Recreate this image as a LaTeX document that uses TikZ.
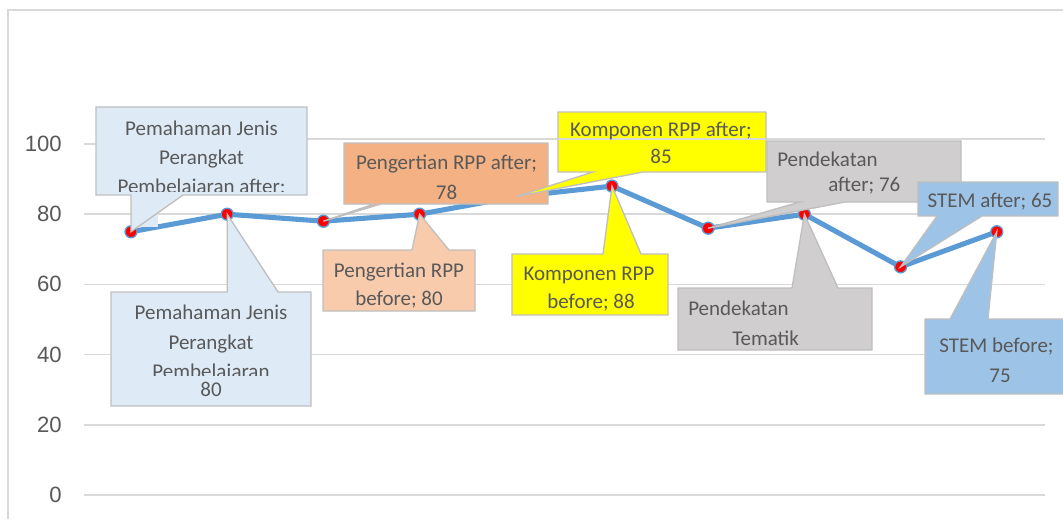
\documentclass[tikz,border=0pt]{standalone}
\usepackage{fontspec}
\setmainfont{Carlito}
\newfontfamily\axisfont{Liberation Sans}
\definecolor{lineblue}{HTML}{5B9BD5}
\definecolor{gridcol}{HTML}{D9D9D9}
\definecolor{cborder}{HTML}{BFBFBF}
\definecolor{txtcol}{HTML}{595959}
\definecolor{lblue}{HTML}{DEEBF7}
\definecolor{orA}{HTML}{F4B183}
\definecolor{orB}{HTML}{F8CBAD}
\definecolor{yel}{HTML}{FFFF00}
\definecolor{gry}{HTML}{D0CECE}
\definecolor{blu}{HTML}{9DC3E6}
\tikzset{
  grid line/.style={draw=gridcol, line width=1.1pt},
  axislbl/.style={font=\axisfont\fontsize{16.6}{18}\selectfont, text=txtcol, anchor=east, inner sep=0pt},
  callout/.style={draw=cborder, line width=1pt, line join=miter},
  lbl/.style={font=\fontsize{15.75}{18}\selectfont, text=txtcol, inner sep=0pt, anchor=base},
  lblw/.style={lbl, anchor=base west},
  marker/.style={fill=red, draw=lineblue, line width=1pt}
}
\begin{document}
\begin{tikzpicture}[x=0.75pt,y=-0.75pt]
\useasboundingbox (0,0) rectangle (1063,519);
\fill[white] (0,0) rectangle (1063,519);
% chart area border
\draw[draw=gridcol, line width=1.1pt] (8,519) -- (8,10) -- (1063,10);
% gridlines
\foreach \v in {0,20,40,60,80} {
  \draw[grid line] (84,{495-3.51*\v}) -- (1045,{495-3.51*\v});
}
\draw[grid line] (84,144) -- (96,144);
\draw[grid line] (307,139) -- (1045,139);
% axis labels
\node[axislbl] (y100) at (62,144) {100};
\node[axislbl] (y80) at (62,214) {80};
\node[axislbl] (y60) at (62,284) {60};
\node[axislbl] (y40) at (62,355) {40};
\node[axislbl] (y20) at (62,425) {20};
\node[axislbl] (y0) at (62,495) {0};
% data points
\coordinate (p1) at (131,231.75);
\coordinate (p2) at (227.2,214.2);
\coordinate (p3) at (323.4,221.2);
\coordinate (p4) at (419.6,214.2);
\coordinate (p5) at (515.8,196.65);
\coordinate (p6) at (612,186.1);
\coordinate (p7) at (708.2,228.2);
\coordinate (p8) at (804.4,214.2);
\coordinate (p9) at (900.6,266.85);
\coordinate (p10) at (996.8,231.75);
\draw[lineblue, line width=3.8pt, line join=round, line cap=round]
  (p1) -- (p2) -- (p3) -- (p4) -- (p5) -- (p6) -- (p7) -- (p8) -- (p9) -- (p10);
\foreach \p in {p1,p2,p3,p4,p5,p6,p7,p8,p9,p10} {
  \path[marker] (\p) circle (4.5pt);
}
% --- Pemahaman after
\fill[lblue] (131,195) rectangle (158,227);
\draw[callout, fill=lblue] (96,107) -- (307,107) -- (307,195) -- (183,195) -- (p1) -- (131,195) -- (96,195) -- cycle;
\node[lbl] (t1a) at (201.5,135) {Pemahaman Jenis};
\node[lbl] (t1b) at (201.5,164) {Perangkat};
\begin{scope}
\clip (97,108) rectangle (306,191.5);
\node[lbl, text depth=0pt] (t1c) at (201.5,193) {Pembelajaran after;};
\end{scope}
% --- Pemahaman before
\draw[callout, fill=lblue] (111,292) -- (227.2,292) -- (p2) -- (278,292) -- (311,292) -- (311,406) -- (111,406) -- cycle;
\node[lbl] (t2a) at (211,319) {Pemahaman Jenis};
\node[lbl] (t2b) at (211,349) {Perangkat};
\begin{scope}
\clip (112,293) rectangle (310,375);
\node[lbl, text depth=0pt] (t2c) at (211,378) {Pembelajaran};
\end{scope}
\node[lbl] (t2d) at (211,396) {80};
% --- Pengertian RPP after
\draw[callout, fill=orA] (344,143) -- (548,143) -- (548,204) -- (381,204) -- (p3) -- (374,204) -- (344,204) -- cycle;
\node[lbl] (t3a) at (446.5,169) {Pengertian RPP after;};
\node[lbl] (t3b) at (446.5,199) {78};
% --- Pengertian RPP before
\draw[callout, fill=orB] (323,250) -- (412,250) -- (p4) -- (449,250) -- (475,250) -- (475,311) -- (323,311) -- cycle;
\node[lbl] (t4a) at (399,277) {Pengertian RPP};
\node[lbl] (t4b) at (399,305) {before; 80};
% --- Komponen RPP after
\draw[callout, fill=yel] (558,112) -- (766,112) -- (766,172) -- (643,172) -- (p5) -- (593,172) -- (558,172) -- cycle;
\draw[grid line] (558,139) -- (766,139);
\node[lbl] (t5a) at (661,136) {Komponen RPP after;};
\node[lbl] (t5b) at (661,163) {85};
% --- Komponen RPP before
\draw[callout, fill=yel] (512,254) -- (603,254) -- (p6) -- (641,254) -- (668,254) -- (668,315) -- (512,315) -- cycle;
\node[lbl] (t6a) at (589,280) {Komponen RPP};
\node[lbl] (t6b) at (591,308) {before; 88};
% --- Pendekatan after
\draw[callout, fill=gry] (767,141) -- (961,141) -- (961,202) -- (845,202) -- (p7) -- (800,202) -- (767,202) -- cycle;
\node[lblw] (t7a) at (777,166) {Pendekatan};
\node[lblw] (t7b) at (828,191) {after; 76};
% --- Pendekatan Tematik before
\draw[callout, fill=gry] (678,288) -- (792,288) -- (p8) -- (838,288) -- (872,288) -- (872,350) -- (678,350) -- cycle;
\node[lblw] (t8a) at (688,315) {Pendekatan};
\node[lblw] (t8b) at (732,345) {Tematik};
% --- STEM after
\draw[callout, fill=blu] (918,182) -- (1058,182) -- (1058,216) -- (982,216) -- (p9) -- (937,216) -- (918,216) -- cycle;
\node[lbl] (t9a) at (990,207) {STEM after; 65};
% --- STEM before
\draw[callout, fill=blu] (925,319) -- (950,319) -- (p10) -- (988,319) -- (1075,319) -- (1075,394) -- (925,394) -- cycle;
\node[lbl] (t10a) at (996.5,352) {STEM before;};
\node[lbl] (t10b) at (1000,382) {75};
\end{tikzpicture}
\end{document}
